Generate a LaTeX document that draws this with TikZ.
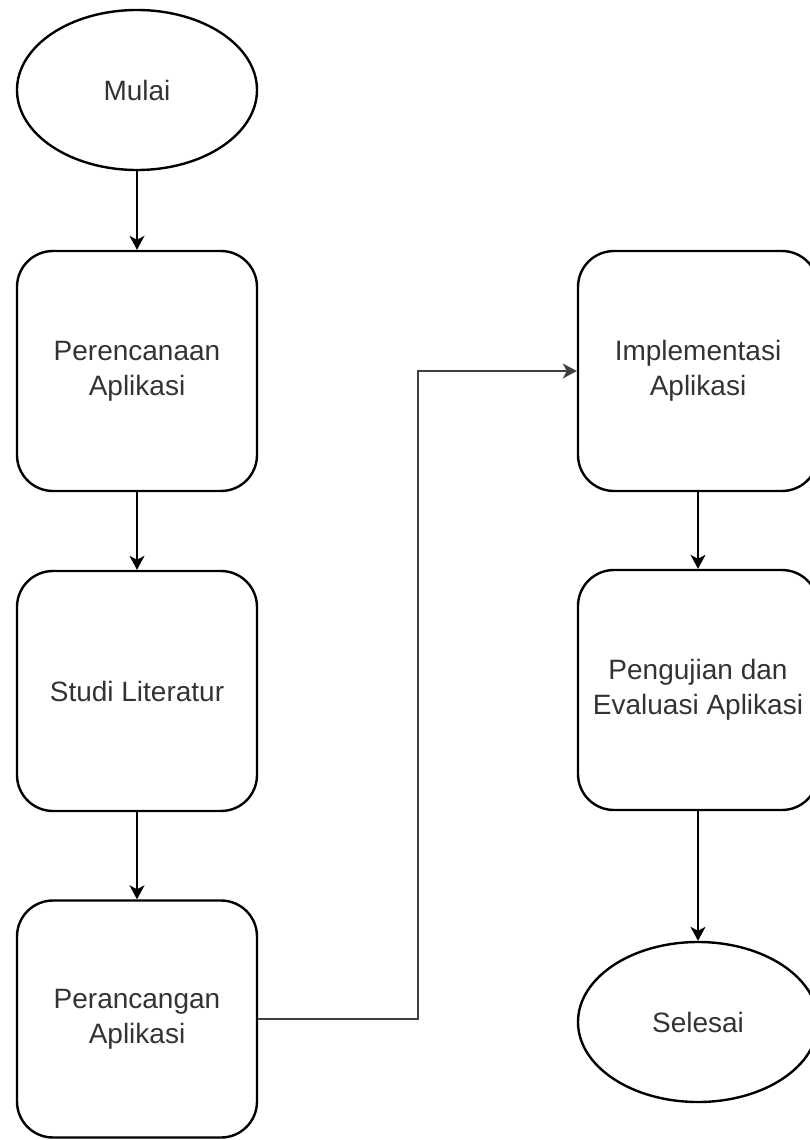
\documentclass[tikz,border=0pt]{standalone}
\usepackage{fontspec}
\setmainfont{Liberation Sans}
\usetikzlibrary{shapes.geometric,arrows.meta}

\definecolor{txtgray}{HTML}{333333}

\begin{document}
\begin{tikzpicture}[x=1pt,y=-1pt,
  terminal/.style={ellipse,draw,line width=2.4pt,minimum width=240pt,
    minimum height=160pt,inner sep=0pt,text=txtgray,
    font=\fontsize{28}{35}\selectfont},
  stepbox/.style={rectangle,draw,rounded corners=36pt,line width=2.4pt,
    minimum width=240pt,minimum height=240pt,inner sep=0pt,align=center,
    text=txtgray,font=\fontsize{28}{35}\selectfont},
  flow/.style={line width=1.6pt,-{Stealth[length=14pt,width=15pt,inset=4pt]}}]
  \useasboundingbox (0,0) rectangle (810,1140);
  \clip (0,0) rectangle (810,1140);
  % left column
  \node[terminal] (mulai) at (137,90) {Mulai};
  \node[stepbox] (rencana) at (137,371) {Perencanaan\\Aplikasi};
  \node[stepbox] (studi) at (137,691) {Studi Literatur};
  \node[stepbox,minimum height=237pt] (rancang) at (137,1019) {Perancangan\\Aplikasi};
  % right column
  \node[stepbox] (impl) at (698,371) {Implementasi\\Aplikasi};
  \node[stepbox] (uji) at (698,690) {Pengujian dan\\Evaluasi Aplikasi};
  \node[terminal] (selesai) at (698,1022) {Selesai};
  % connectors
  \draw[flow] (mulai) -- (rencana);
  \draw[flow] (rencana) -- (studi);
  \draw[flow] (studi) -- (rancang);
  \coordinate (turn) at (418,1019);
  \draw[flow,draw=black!75] (rancang.east) -- (turn) |- (impl.west);
  \draw[flow] (impl) -- (uji);
  \draw[flow] (uji) -- (selesai);
\end{tikzpicture}
\end{document}
